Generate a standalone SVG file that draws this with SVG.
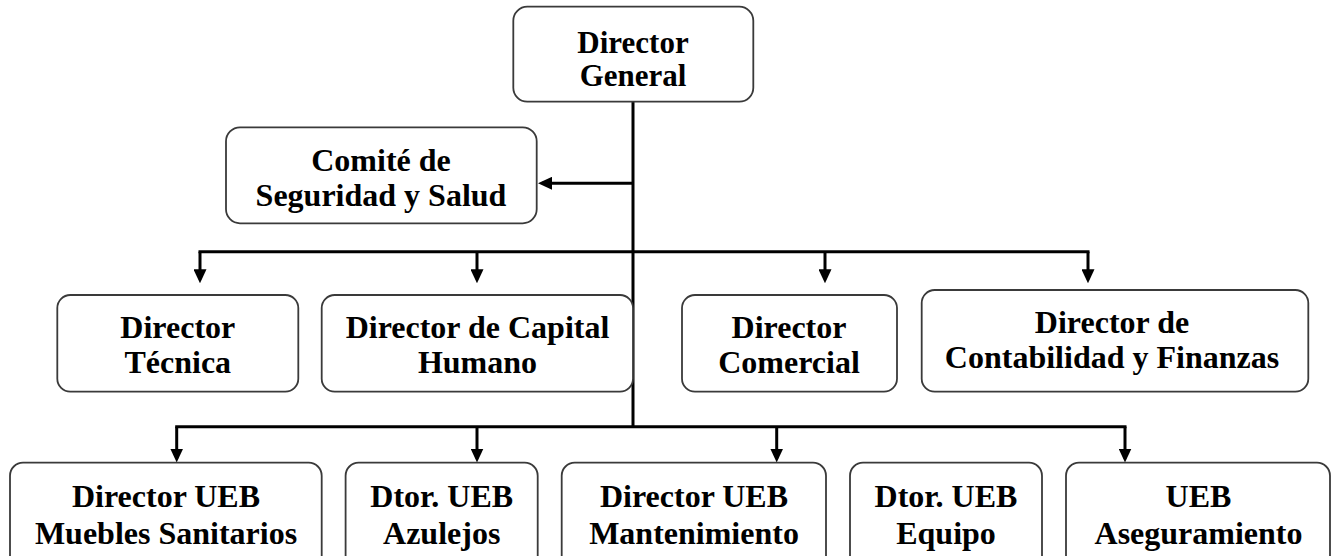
<svg xmlns="http://www.w3.org/2000/svg" width="1336" height="556" viewBox="0 0 1336 556">
<style>
.box{fill:#ffffff;stroke:#3a3a3a;stroke-width:1.8}
.lbl{font-family:"Liberation Serif","Times New Roman",serif;font-weight:bold;font-size:32px;fill:#000;text-anchor:middle}
.con{fill:none;stroke:#000;stroke-width:3}
</style>
<defs>
<marker id="arr" markerUnits="userSpaceOnUse" markerWidth="14" markerHeight="13" refX="10" refY="6.5" orient="auto">
<path d="M0,0 L14,6.5 L0,13 z" fill="#000"/>
</marker>
</defs>
<g id="connectors">
<path class="con" d="M633,101.7 V428"/>
<path class="con" d="M633,183.3 H542" marker-end="url(#arr)"/>
<path class="con" d="M198.5,251.7 H1089.5"/>
<path class="con" d="M200,251.7 V279.3" marker-end="url(#arr)"/>
<path class="con" d="M477,251.7 V279.3" marker-end="url(#arr)"/>
<path class="con" d="M825,251.7 V279.3" marker-end="url(#arr)"/>
<path class="con" d="M1088,251.7 V279.3" marker-end="url(#arr)"/>
<path class="con" d="M175.2,426.7 H1126.5"/>
<path class="con" d="M176.7,426.7 V458.5" marker-end="url(#arr)"/>
<path class="con" d="M477,426.7 V458.5" marker-end="url(#arr)"/>
<path class="con" d="M776.7,426.7 V458.5" marker-end="url(#arr)"/>
<path class="con" d="M1125,426.7 V458.5" marker-end="url(#arr)"/>
</g>
<g id="director-general">
<rect class="box" x="513.3" y="6.7" width="240" height="95" rx="14"/>
<text class="lbl" style="font-size:31px"><tspan x="633" y="53">Director</tspan><tspan x="633" y="86">General</tspan></text>
</g>
<g id="comite">
<rect class="box" x="226" y="127.3" width="310.7" height="96" rx="14"/>
<text class="lbl"><tspan x="381" y="170.7">Comité de</tspan><tspan x="381" y="206">Seguridad y Salud</tspan></text>
</g>
<g id="director-tecnica">
<rect class="box" x="57.3" y="295" width="241" height="96.7" rx="13"/>
<text class="lbl"><tspan x="177.8" y="338.3">Director</tspan><tspan x="177.8" y="373.3">Técnica</tspan></text>
</g>
<g id="director-capital-humano">
<rect class="box" x="321.7" y="295" width="311.3" height="96.7" rx="13"/>
<text class="lbl"><tspan x="477.5" y="338.3">Director de Capital</tspan><tspan x="477.5" y="373.3">Humano</tspan></text>
</g>
<g id="director-comercial">
<rect class="box" x="682" y="295" width="215" height="96.7" rx="13"/>
<text class="lbl"><tspan x="789" y="338.3">Director</tspan><tspan x="789" y="373.3">Comercial</tspan></text>
</g>
<g id="director-contabilidad">
<rect class="box" x="921.7" y="290" width="386.6" height="101.7" rx="13"/>
<text class="lbl"><tspan x="1112" y="333.3">Director de</tspan><tspan x="1112" y="368.3">Contabilidad y Finanzas</tspan></text>
</g>
<g id="ueb-muebles">
<rect class="box" x="10" y="462.7" width="311.7" height="120" rx="13"/>
<text class="lbl"><tspan x="166" y="507.3">Director UEB</tspan><tspan x="166" y="544">Muebles Sanitarios</tspan></text>
</g>
<g id="ueb-azulejos">
<rect class="box" x="345.6" y="462.7" width="192.1" height="120" rx="13"/>
<text class="lbl"><tspan x="441.7" y="507.3">Dtor. UEB</tspan><tspan x="441.7" y="544">Azulejos</tspan></text>
</g>
<g id="ueb-mantenimiento">
<rect class="box" x="561.7" y="462.7" width="264.3" height="120" rx="13"/>
<text class="lbl"><tspan x="694" y="507.3">Director UEB</tspan><tspan x="694" y="544">Mantenimiento</tspan></text>
</g>
<g id="ueb-equipo">
<rect class="box" x="850" y="462.7" width="192" height="120" rx="13"/>
<text class="lbl"><tspan x="946" y="507.3">Dtor. UEB</tspan><tspan x="946" y="544">Equipo</tspan></text>
</g>
<g id="ueb-aseguramiento">
<rect class="box" x="1066" y="462.7" width="264" height="120" rx="13"/>
<text class="lbl"><tspan x="1198.5" y="507.3">UEB</tspan><tspan x="1198.5" y="544">Aseguramiento</tspan></text>
</g>
</svg>
